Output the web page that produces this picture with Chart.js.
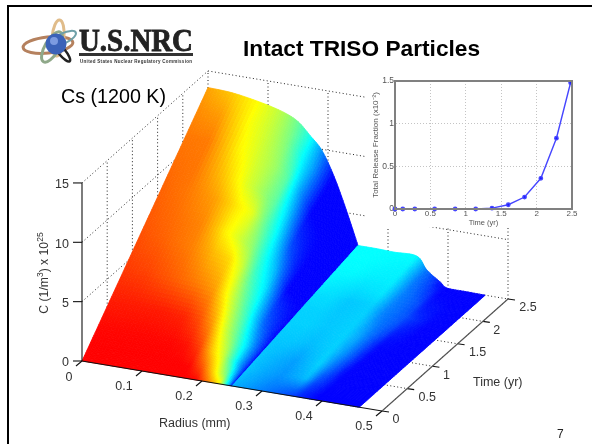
<!DOCTYPE html>
<html><head><meta charset="utf-8">
<script src="https://cdn.jsdelivr.net/npm/chart.js@4"></script>
<style>
html,body{margin:0;padding:0;background:#fff;width:592px;height:444px;overflow:hidden;font-family:"Liberation Sans",Arial,sans-serif}
#frame{position:absolute;left:7px;top:5px;width:585px;height:439px;border-left:2px solid #000;border-top:2px solid #000;box-sizing:border-box}
canvas{position:absolute}
.t{position:absolute;white-space:nowrap;color:#000}
sup{font-size:70%;line-height:0}
</style></head><body>
<canvas id="main" width="592" height="444" style="left:0;top:0;filter:blur(.4px)"></canvas>
<div id="insetBox" style="position:absolute;left:365px;top:70px;width:225px;height:157px;background:#fff"></div>
<canvas id="inset" width="225" height="157" style="left:365px;top:70px;filter:blur(.55px)"></canvas>
<div id="frame"></div>
<svg style="position:absolute;left:0;top:0;filter:blur(.4px)" width="200" height="70">
 <ellipse cx="48" cy="45" rx="25" ry="8" fill="none" stroke="#b5815e" stroke-width="3" transform="rotate(-6 48 45)"/>
 <ellipse cx="58" cy="38" rx="6" ry="18" fill="none" stroke="#e0bc8a" stroke-width="3" transform="rotate(5 58 38)"/>
 <ellipse cx="52" cy="47" rx="7" ry="17" fill="none" stroke="#8fa889" stroke-width="3" transform="rotate(30 52 47)"/>
 <ellipse cx="64" cy="38" rx="13" ry="5" fill="none" stroke="#6fa0a8" stroke-width="2" transform="rotate(-25 64 38)"/>
 <ellipse cx="62" cy="52" rx="3.5" ry="12" fill="none" stroke="#222" stroke-width="2.5" transform="rotate(-40 62 52)"/>
 <circle cx="56" cy="44" r="10.5" fill="#3b62b8"/>
 <circle cx="54" cy="41" r="4" fill="#7d9be0"/>
 <text x="79" y="51" font-family="Liberation Serif" font-weight="bold" font-size="31" textLength="114" lengthAdjust="spacingAndGlyphs" fill="#222" stroke="#222" stroke-width=".8">U.S.NRC</text>
 <rect x="79" y="53" width="114" height="3" fill="#333"/>
 <text x="80" y="63" font-family="Liberation Sans" font-weight="bold" font-size="4.5" textLength="112" fill="#333">United States Nuclear Regulatory Commission</text>
</svg>
<div class="t" style="left:243px;top:35px;font-size:22.7px;font-weight:bold">Intact TRISO Particles</div>
<div class="t" style="left:61px;top:85px;font-size:19.7px">Cs (1200 K)</div>
<div class="t" style="left:557px;top:427px;font-size:12px;color:#222">7</div>
<div class="t" style="left:44px;top:273px;font-size:12.2px;color:#333;transform:translate(-50%,-50%) rotate(-90deg)">C (1/m<sup>3</sup>) x 10<sup>25</sup></div>
<div class="t" style="left:159px;top:416px;font-size:12.5px;color:#333">Radius (mm)</div>
<div class="t" style="left:473px;top:375px;font-size:12.5px;color:#333">Time (yr)</div>
<script>
// ---------- inset chart ----------
const releaseTime=[0,0.11,0.28,0.56,0.85,1.14,1.37,1.6,1.83,2.06,2.28,2.48];
const releaseFraction=[0,0,0,0,0,0,0.01,0.05,0.14,0.36,0.83,1.48];
// ---------- surface chart ----------
const radiusTicks=[0,0.1,0.2,0.3,0.4,0.5];
const timeTicks=[0,0.5,1,1.5,2,2.5];
const concTicks=[0,5,10,15];
const surfaceTimes=[0,0.12,0.3,0.55,0.85,1.15,1.35,1.6,1.8,2.05,2.3,2.5];
const kernelRadius=[0,0.04,0.087,0.125,0.15,0.17,0.19,0.21,0.23,0.25];
const bufferRadius=[0.25,0.28,0.31,0.348,0.365,0.387,0.398,0.43,0.462];
const kernelConc=[
[0,0,0,0,0,0,0,0,0,0],
[0.65,0.65,0.63,0.60,0.58,0.53,0.48,0.38,0.25,0.12],
[1.63,1.62,1.57,1.51,1.44,1.32,1.19,0.95,0.64,0.29],
[2.99,2.97,2.88,2.77,2.64,2.42,2.18,1.74,1.17,0.53],
[4.62,4.59,4.45,4.28,4.08,3.74,3.37,2.69,1.80,0.82],
[6.26,6.21,6.03,5.80,5.52,5.06,4.55,3.63,2.44,1.10],
[7.34,7.29,7.07,6.80,6.48,5.94,5.35,4.27,2.86,1.30],
[8.70,8.64,8.38,8.06,7.68,7.04,6.34,5.06,3.39,1.54],
[9.79,9.72,9.43,9.07,8.64,7.92,7.13,5.69,3.82,1.73],
[11.15,11.07,10.74,10.33,9.84,9.02,8.12,6.48,4.35,1.97],
[12.51,12.42,12.05,11.59,11.04,10.12,9.11,7.27,4.88,2.21],
[13.6,13.5,13.1,12.6,12.0,11.0,9.9,7.9,5.3,2.4]];
const bufferConc=[
[0,0,0,0,0,0,0,0,0],
[0.12,0.12,0.11,0.11,0.06,0.02,0,0,0],
[0.29,0.29,0.28,0.28,0.16,0.06,0.01,0,0],
[0.53,0.53,0.52,0.51,0.29,0.11,0.02,0.01,0],
[0.82,0.82,0.80,0.80,0.44,0.16,0.02,0.01,0],
[1.10,1.10,1.08,1.08,0.60,0.22,0.03,0.01,0],
[1.30,1.30,1.27,1.26,0.70,0.26,0.04,0.02,0],
[1.54,1.54,1.50,1.50,0.83,0.31,0.04,0.02,0],
[1.73,1.73,1.69,1.68,0.94,0.35,0.05,0.02,0],
[1.97,1.97,1.93,1.92,1.07,0.39,0.06,0.02,0],
[2.21,2.21,2.16,2.15,1.20,0.44,0.06,0.03,0],
[2.4,2.4,2.35,2.34,1.3,0.48,0.07,0.03,0]];
// colour position on the jet map
const kernelShade=[
[.875,.875,.875,.875,.875,.875,.87,.75,.625,.125],
[.875,.875,.875,.875,.875,.87,.80,.66,.50,.125],
[.87,.87,.87,.87,.86,.82,.69,.58,.375,.125],
[.85,.85,.85,.84,.80,.73,.60,.48,.34,.125],
[.82,.81,.78,.75,.72,.625,.52,.40,.23,.125],
[.80,.78,.75,.69,.66,.58,.44,.35,.17,.125],
[.79,.77,.745,.64,.58,.52,.405,.30,.125,.125],
[.78,.76,.72,.645,.60,.48,.375,.21,.125,.125],
[.77,.76,.68,.59,.53,.47,.34,.165,.125,.125],
[.76,.755,.64,.575,.53,.46,.29,.125,.125,.125],
[.74,.72,.62,.56,.50,.40,.29,.125,.125,.125],
[.72,.68,.62,.55,.48,.40,.27,.125,.125,.125]];
const bufferShade=[
[.30,.27,.24,.19,.16,.13,.125,.125,.125],
[.31,.28,.25,.23,.17,.13,.125,.125,.125],
[.32,.29,.27,.31,.20,.14,.125,.125,.125],
[.32,.30,.28,.33,.24,.14,.125,.125,.125],
[.32,.32,.31,.33,.27,.16,.125,.125,.125],
[.33,.33,.32,.33,.28,.17,.13,.125,.125],
[.33,.33,.32,.33,.27,.19,.14,.125,.125],
[.34,.34,.32,.33,.25,.21,.16,.125,.125],
[.36,.35,.34,.35,.25,.21,.18,.13,.125],
[.37,.37,.36,.36,.25,.20,.15,.13,.125],
[.375,.375,.37,.365,.24,.17,.13,.125,.125],
[.375,.375,.375,.375,.24,.14,.125,.125,.125]];

// view of the 3-D box
const VIEW={ox:82,oy:361,rx:600,ry:100,tx:50.4,ty:-44.8,zy:-11.87};
function project(r,t,z){return {x:VIEW.ox+VIEW.rx*r+VIEW.tx*t,y:VIEW.oy+VIEW.ry*r+VIEW.ty*t+VIEW.zy*z};}
function jet(c){
  const f=(a)=>Math.round(255*Math.max(0,Math.min(1,1.5-Math.abs(4*c-a))));
  return `rgb(${f(3)},${f(2)},${f(1)})`;
}
const R0=0,R1=0.5,T0=0,T1=2.5,Z1=15;
const datasets=[];
function seg(a,b,style){datasets.push(Object.assign({data:[a,b],showLine:true,pointRadius:0,fill:false},style));}
const dotted={borderColor:'#222',borderWidth:1,borderDash:[1,2.5],order:3};
timeTicks.slice(1).forEach(t=>seg(project(R0,t,0),project(R0,t,Z1),dotted));
concTicks.slice(1).forEach(z=>{seg(project(R0,T0,z),project(R0,T1,z),dotted);seg(project(R0,T1,z),project(R1,T1,z),dotted);});
radiusTicks.slice(1).forEach(r=>seg(project(r,T1,0),project(r,T1,Z1),dotted));
timeTicks.slice(1).forEach(t=>seg(project(R0,t,0),project(R1,t,0),dotted));
radiusTicks.slice(1).forEach(r=>seg(project(r,T0,0),project(r,T1,0),dotted));
const nRows=surfaceTimes.length;
const allRadius=kernelRadius.concat(bufferRadius);
for(let i=0;i<nRows;i++){
  const zs=kernelConc[i].concat(bufferConc[i]);
  const cs=kernelShade[i].concat(bufferShade[i]);
  datasets.push({label:'t='+surfaceTimes[i],surfaceRow:i,shade:cs,order:2,showLine:false,pointRadius:0,
    data:allRadius.map((r,j)=>project(r,surfaceTimes[i],zs[j]))});
}
const solid={borderColor:'#111',borderWidth:1.1,order:1};
const grey={borderColor:'#555',borderWidth:1.1,order:1};
seg(project(R0,T0,0),project(R0,T0,Z1),solid);
seg(project(R0,T0,0),project(R1,T0,0),solid);
seg(project(R1,T0,0),project(R1,T1,0),grey);
concTicks.forEach(z=>{const p=project(R0,T0,z);seg(p,{x:p.x-9,y:p.y},solid);});
radiusTicks.forEach(r=>{const p=project(r,T0,0);seg(p,{x:p.x-6,y:p.y+5},solid);});
timeTicks.forEach(t=>{const p=project(R1,t,0);seg(p,{x:p.x+7,y:p.y+1},solid);});

// Catmull-Rom through one row of a section, so the painted surface is smooth between read values
function cr(p0,p1,p2,p3,u){return 0.5*(2*p1+(p2-p0)*u+(2*p0-5*p1+4*p2-p3)*u*u+(3*p1-p0-3*p2+p3)*u*u*u);}
const meshPlugin={id:'mesh',
  afterDatasetDraw(chart,args){
    const ds=chart.data.datasets[args.index];
    if(ds.surfaceRow!==0) return;
    const ctx=chart.ctx, metas={};
    chart.data.datasets.forEach((d,k)=>{if(d.surfaceRow!==undefined)metas[d.surfaceRow]={m:chart.getDatasetMeta(k).data,c:d.shade};});
    const N=8, cols=allRadius.length, K=kernelRadius.length;
    const rowAt=(row,j,u)=>{
      const lo=j<K?0:K, hi=j<K?K-1:cols-1;
      const a=Math.max(lo,j-1),b=j,c=j+1,d=Math.min(hi,j+2);
      return {x:cr(row.m[a].x,row.m[b].x,row.m[c].x,row.m[d].x,u),
              y:cr(row.m[a].y,row.m[b].y,row.m[c].y,row.m[d].y,u),
              s:row.c[b]+(row.c[c]-row.c[b])*u};
    };
    ctx.save();ctx.lineWidth=.8;
    for(let i=nRows-2;i>=0;i--){
      const near=metas[i],far=metas[i+1];
      for(let j=0;j<cols-1;j++){
        if(j===K-1) continue;
        for(let a=N-1;a>=0;a--)for(let b=0;b<N;b++){
          const u0=b/N,u1=(b+1)/N,v0=a/N,v1=(a+1)/N,um=(u0+u1)/2,vm=(v0+v1)/2;
          const n0=rowAt(near,j,u0),n1=rowAt(near,j,u1),f0=rowAt(far,j,u0),f1=rowAt(far,j,u1);
          const L=(p,q,v)=>({x:p.x+(q.x-p.x)*v,y:p.y+(q.y-p.y)*v});
          const p=[L(n0,f0,v0),L(n1,f1,v0),L(n1,f1,v1),L(n0,f0,v1)];
          const nm=rowAt(near,j,um),fm=rowAt(far,j,um);
          const col=jet(nm.s+(fm.s-nm.s)*vm);
          ctx.fillStyle=col;ctx.strokeStyle=col;
          ctx.beginPath();ctx.moveTo(p[0].x,p[0].y);for(let q=1;q<4;q++)ctx.lineTo(p[q].x,p[q].y);ctx.closePath();ctx.fill();ctx.stroke();
        }
      }
    }
    ctx.restore();
  },
  afterDraw(chart){
    const ctx=chart.ctx, sx=chart.scales.x, sy=chart.scales.y;
    const put=(txt,p,dx,dy,al)=>{ctx.textAlign=al;ctx.fillText(txt,sx.getPixelForValue(p.x)+dx,sy.getPixelForValue(p.y)+dy);};
    ctx.save();ctx.fillStyle='#333';ctx.font='12.5px "Liberation Sans"';ctx.textBaseline='middle';
    concTicks.forEach(z=>put(String(z),project(R0,T0,z),-13,2,'right'));
    radiusTicks.forEach(r=>put(String(r),project(r,T0,0),r===0?-13:-18,r===0?17:16,'center'));
    timeTicks.forEach(t=>put(String(t),project(R1,t,0),String(t).length>1?20:14,9,'center'));
    ctx.restore();
  }
};
new Chart(document.getElementById('main'),{type:'scatter',plugins:[meshPlugin],
  data:{datasets},
  options:{responsive:false,animation:false,events:[],parsing:false,normalized:false,layout:{padding:0},
    plugins:{legend:{display:false},tooltip:{enabled:false}},
    scales:{x:{type:'linear',display:false,min:0,max:592},y:{type:'linear',display:false,min:0,max:444,reverse:true}}}});

new Chart(document.getElementById('inset'),{type:'scatter',
  data:{datasets:[{data:releaseTime.map((t,i)=>({x:t,y:releaseFraction[i]})),showLine:true,borderColor:'#4646ff',backgroundColor:'#1c1cff',borderWidth:1.4,pointRadius:1.7,clip:false}]},
  options:{responsive:false,animation:false,events:[],layout:{padding:{top:11,right:18,left:6,bottom:0}},
    plugins:{legend:{display:false},tooltip:{enabled:false}},
    scales:{
      x:{type:'linear',min:0,max:2.5,afterFit(s){s.height=18;},
         ticks:{stepSize:.5,font:{size:8,family:'Liberation Sans'},color:'#555',padding:0,maxRotation:0,callback:v=>String(v)},
         grid:{color:'#c4c4c4',tickLength:0,lineWidth:1},border:{color:'#808080',width:2,dash:[1,2]},
         title:{display:true,text:'Time (yr)',font:{size:7.5,family:'Liberation Sans'},color:'#555',padding:0}},
      y:{type:'linear',min:0,max:1.5,afterFit(s){s.width=24;},
         ticks:{stepSize:.5,font:{size:8.5,family:'Liberation Sans'},color:'#555',padding:1,callback:v=>String(v)},
         grid:{color:'#c4c4c4',tickLength:0,lineWidth:1},border:{color:'#808080',width:2,dash:[1,2]},
         title:{display:true,text:'Total Release Fraction (x10⁻²)',font:{size:8,family:'Liberation Sans'},color:'#555',padding:0}}}},
  plugins:[{id:'box',afterDatasetsDraw(c){const a=c.chartArea,x=c.ctx;x.save();x.strokeStyle='#808080';x.lineWidth=2;x.strokeRect(a.left,a.top,a.width,a.height);x.restore();}}]
});
</script>
</body></html>
